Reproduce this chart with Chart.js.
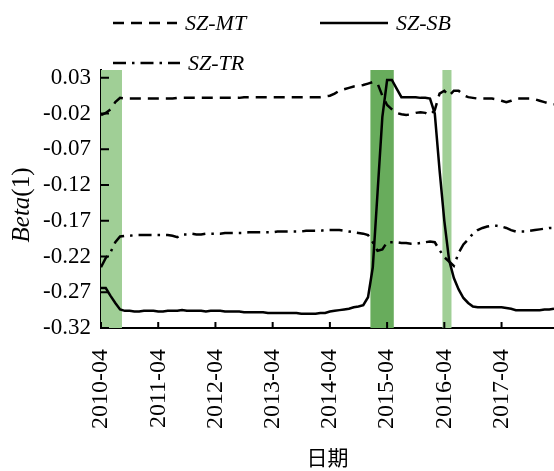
<!DOCTYPE html>
<html>
<head>
<meta charset="utf-8">
<script src="https://cdn.jsdelivr.net/npm/chart.js@4"></script>
<style>
  html, body { margin: 0; padding: 0; background: #fff; overflow: hidden; }
  #wrap { position: relative; width: 554px; height: 471px; }
</style>
</head>
<body>
<div id="wrap"><canvas id="betaChart"></canvas></div>
<script>
// months counted from 2010-04
const months = [];
for (let m = 0; m <= 95; m++) months.push(m);

const tickMonths = [0, 12, 24, 36, 48, 60, 72, 84];
const tickLabels = ['2010-04', '2011-04', '2012-04', '2013-04', '2014-04', '2015-04', '2016-04', '2017-04'];
const yTicks = [0.03, -0.02, -0.07, -0.12, -0.17, -0.22, -0.27, -0.32];

const seriesNames = ['SZ-MT', 'SZ-SB', 'SZ-TR'];

const szMT = [
  -0.022, -0.019, -0.014, -0.004, 0.002, 0.001, 0.001, 0.001, 0.001, 0.001,
  0.001, 0.001, 0.001, 0.001, 0.001, 0.001, 0.002, 0.002, 0.002, 0.002,
  0.002, 0.002, 0.002, 0.002, 0.002, 0.002, 0.002, 0.002, 0.002, 0.002,
  0.003, 0.003, 0.003, 0.003, 0.003, 0.003, 0.003, 0.003, 0.003, 0.003,
  0.003, 0.003, 0.003, 0.003, 0.003, 0.003, 0.003, 0.004, 0.005, 0.008,
  0.012, 0.014, 0.016, 0.018, 0.019, 0.020, 0.022, 0.024, 0.022, 0.005,
  -0.008, -0.014, -0.019, -0.021, -0.022, -0.021, -0.019, -0.018, -0.019, -0.022,
  -0.015, 0.008, 0.012, 0.005, 0.012, 0.012, 0.006, 0.003, 0.002, 0.001,
  0.001, 0.001, 0.001, 0.000, -0.002, -0.004, -0.002, 0.001, 0.001, 0.001,
  0.001, 0.000, -0.002, -0.004, -0.006, -0.007
];

const szSB = [
  -0.264, -0.264, -0.275, -0.285, -0.294, -0.296, -0.296, -0.297, -0.297, -0.296,
  -0.296, -0.296, -0.297, -0.297, -0.296, -0.296, -0.296, -0.295, -0.296, -0.296,
  -0.296, -0.296, -0.297, -0.296, -0.296, -0.296, -0.297, -0.297, -0.297, -0.297,
  -0.298, -0.298, -0.298, -0.298, -0.298, -0.299, -0.299, -0.299, -0.299, -0.299,
  -0.299, -0.299, -0.300, -0.300, -0.300, -0.300, -0.299, -0.299, -0.297, -0.296,
  -0.295, -0.294, -0.293, -0.291, -0.290, -0.288, -0.277, -0.235, -0.130, -0.025,
  0.027, 0.027, 0.015, 0.003, 0.003, 0.003, 0.003, 0.002, 0.002, 0.001,
  -0.020, -0.099, -0.170, -0.225, -0.250, -0.266, -0.278, -0.285, -0.290, -0.291,
  -0.291, -0.291, -0.291, -0.291, -0.291, -0.292, -0.293, -0.295, -0.295, -0.295,
  -0.295, -0.295, -0.295, -0.294, -0.294, -0.293
];

const szTR = [
  -0.235, -0.222, -0.214, -0.200, -0.192, -0.191, -0.191, -0.190, -0.190, -0.190,
  -0.190, -0.190, -0.190, -0.190, -0.190, -0.191, -0.193, -0.189, -0.189, -0.188,
  -0.189, -0.189, -0.188, -0.188, -0.188, -0.188, -0.187, -0.187, -0.187, -0.187,
  -0.187, -0.186, -0.186, -0.186, -0.186, -0.186, -0.186, -0.185, -0.185, -0.185,
  -0.185, -0.185, -0.185, -0.184, -0.184, -0.184, -0.184, -0.183, -0.183, -0.183,
  -0.183, -0.184, -0.185, -0.186, -0.187, -0.188, -0.190, -0.200, -0.212, -0.210,
  -0.200, -0.200, -0.200, -0.201, -0.201, -0.202, -0.202, -0.201, -0.200, -0.199,
  -0.200, -0.211, -0.221, -0.227, -0.233, -0.215, -0.203, -0.196, -0.188, -0.183,
  -0.180, -0.178, -0.177, -0.177, -0.178, -0.180, -0.183, -0.185, -0.185, -0.185,
  -0.184, -0.183, -0.182, -0.181, -0.180, -0.180
];

// shaded periods (months from 2010-04)
const shadeStart = [0, 56.5, 71.6];
const shadeEnd = [4.4, 61.4, 73.5];
const shadeStrong = [false, true, false];

Chart.defaults.font.family = '"Liberation Serif", "Times New Roman", serif';
Chart.defaults.color = '#000';

const toPoints = vals => months.map((m, i) => ({ x: m, y: vals[i] }));

const shading = {
  id: 'shading',
  beforeDatasetsDraw(chart) {
    const { ctx, chartArea, scales: { x } } = chart;
    ctx.save();
    shadeStart.forEach((s, i) => {
      const x0 = x.getPixelForValue(s);
      const x1 = x.getPixelForValue(shadeEnd[i]);
      ctx.fillStyle = shadeStrong[i] ? 'rgb(104,172,92)' : 'rgb(160,207,150)';
      ctx.fillRect(x0, chartArea.top, x1 - x0, chartArea.bottom - chartArea.top);
    });
    ctx.restore();
  }
};

// inward tick marks, legend and y-axis title
const decorations = {
  id: 'decorations',
  afterDraw(chart) {
    const { ctx, chartArea, scales: { x, y } } = chart;
    ctx.save();
    ctx.strokeStyle = '#000';
    ctx.lineWidth = 2;
    ctx.beginPath();
    x.ticks.forEach(t => {
      const px = x.getPixelForValue(t.value);
      ctx.moveTo(px, chartArea.bottom);
      ctx.lineTo(px, chartArea.bottom - 6);
    });
    y.ticks.forEach(t => {
      const py = y.getPixelForValue(t.value);
      ctx.moveTo(chartArea.left, py);
      ctx.lineTo(chartArea.left + 8, py);
    });
    ctx.stroke();

    // legend
    const slots = [
      { x: 113, y: 23, len: 64 },
      { x: 320, y: 23, len: 68 },
      { x: 113, y: 63, len: 67 }
    ];
    ctx.font = 'italic 22px "Liberation Serif"';
    ctx.textBaseline = 'middle';
    ctx.fillStyle = '#000';
    chart.data.datasets.forEach((ds, i) => {
      const s = slots[i];
      ctx.setLineDash(ds.borderDash || []);
      ctx.lineWidth = ds.borderWidth;
      ctx.beginPath();
      ctx.moveTo(s.x, s.y);
      ctx.lineTo(s.x + s.len, s.y);
      ctx.stroke();
      ctx.fillText(ds.label, s.x + s.len + 8, s.y + 1);
    });
    ctx.setLineDash([]);

    // y-axis title: italic "Beta" followed by upright "(1)"
    ctx.translate(22, (chartArea.top + chartArea.bottom) / 2 + 6);
    ctx.rotate(-Math.PI / 2);
    const f1 = 'italic 25px "Liberation Serif"';
    const f2 = '25px "Liberation Serif"';
    ctx.font = f1;
    const w1 = ctx.measureText('Beta').width;
    ctx.font = f2;
    const w2 = ctx.measureText('(1)').width;
    let sx = -(w1 + w2) / 2;
    ctx.font = f1;
    ctx.fillText('Beta', sx, 0);
    ctx.font = f2;
    ctx.fillText('(1)', sx + w1, 0);
    ctx.restore();
  }
};

new Chart(document.getElementById('betaChart'), {
  type: 'line',
  data: {
    datasets: [
      { label: seriesNames[0], data: toPoints(szMT), borderColor: '#000', borderWidth: 2.5, borderDash: [11, 7] },
      { label: seriesNames[1], data: toPoints(szSB), borderColor: '#000', borderWidth: 2.5 },
      { label: seriesNames[2], data: toPoints(szTR), borderColor: '#000', borderWidth: 2.5, borderDash: [13, 6, 2.5, 6] }
    ]
  },
  options: {
    responsive: true,
    maintainAspectRatio: false,
    animation: false,
    layout: { padding: { top: 70, right: 0, left: 0, bottom: 0 } },
    elements: { point: { radius: 0 }, line: { tension: 0, fill: false } },
    plugins: { legend: { display: false }, tooltip: { enabled: false } },
    scales: {
      x: {
        type: 'linear',
        min: 0,
        max: 95,
        grid: { display: false, drawTicks: false },
        border: { display: true, color: '#000', width: 2 },
        afterBuildTicks: s => { s.ticks = tickMonths.map(v => ({ value: v })); },
        ticks: {
          autoSkip: false,
          minRotation: 90,
          maxRotation: 90,
          padding: 21,
          font: { size: 24 },
          callback: (v, i) => tickLabels[i]
        },
        title: {
          display: true,
          text: '日期',
          font: { family: '"Noto Sans CJK SC"', size: 21 },
          padding: { top: 0, bottom: 1 }
        },
        afterFit: s => { s.height = 143; s.paddingLeft = 0; s.paddingRight = 0; }
      },
      y: {
        min: -0.32,
        max: 0.041,
        grid: { display: false, drawTicks: false },
        border: { display: true, color: '#000', width: 2 },
        afterBuildTicks: s => { s.ticks = yTicks.map(v => ({ value: v })); },
        ticks: {
          padding: 10,
          font: { size: 23 },
          callback: v => v.toFixed(2)
        },
        afterFit: s => { s.width = 101; s.paddingTop = 0; s.paddingBottom = 0; }
      }
    }
  },
  plugins: [shading, decorations]
});
</script>
</body>
</html>
